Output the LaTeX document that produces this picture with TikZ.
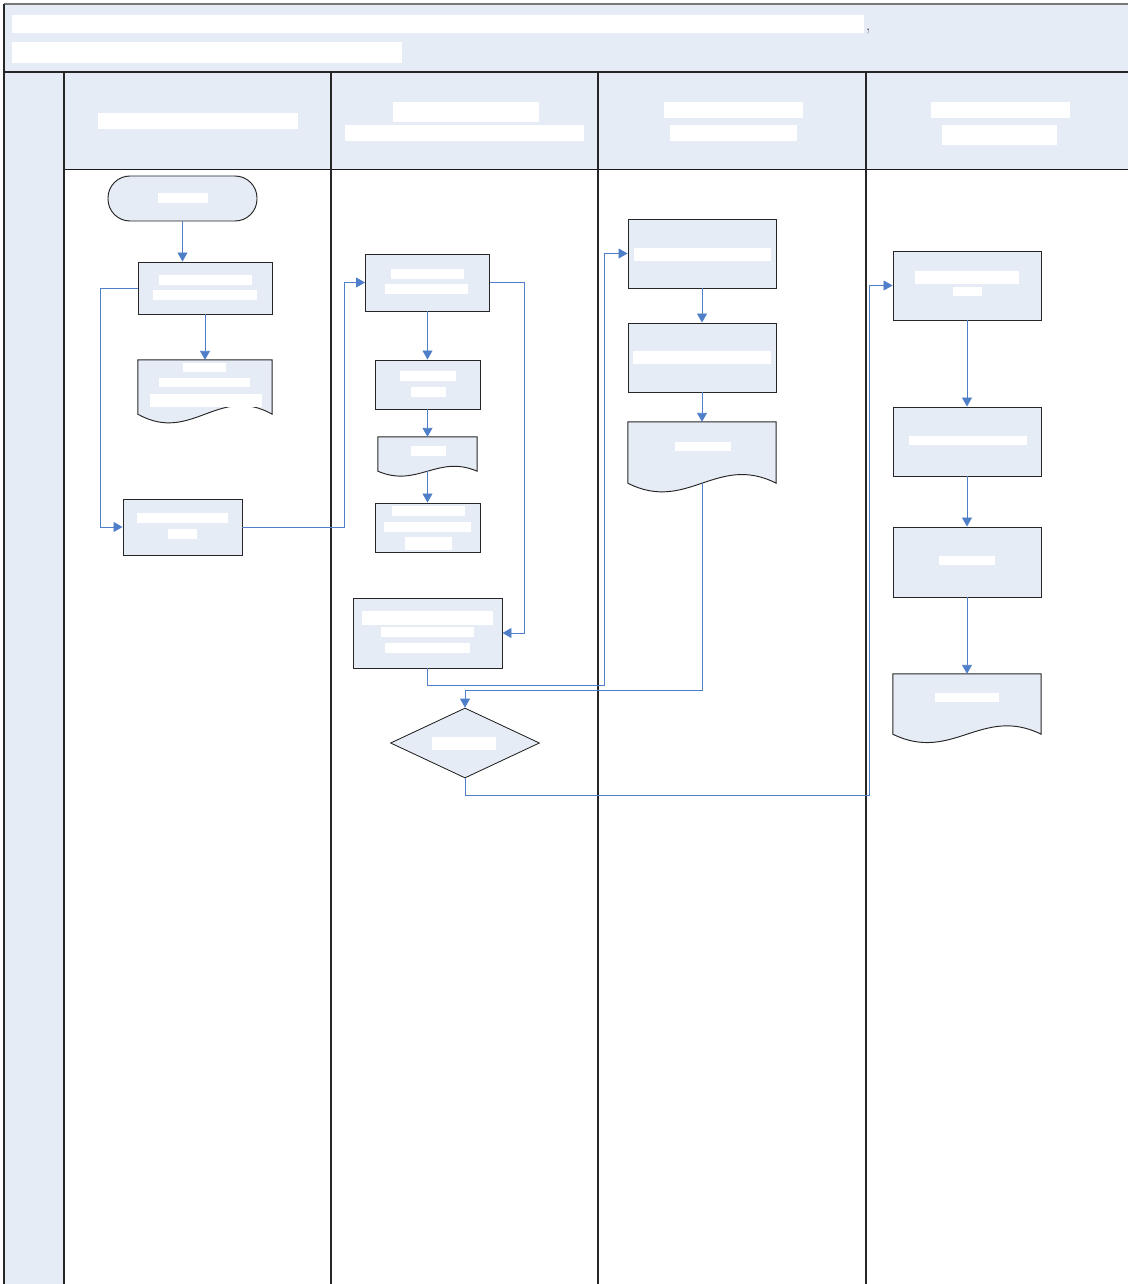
\documentclass[tikz,border=0pt]{standalone}
\usetikzlibrary{shapes.geometric,arrows.meta,calc}
\definecolor{lanefill}{HTML}{E6ECF6}
\definecolor{connblue}{HTML}{4F7FC8}
\definecolor{framegray}{HTML}{555555}
\tikzset{
  box/.style={rectangle, draw=black!85, line width=0.95pt, fill=lanefill, inner sep=0pt},
  term/.style={box, rounded corners=22pt},
  decision/.style={diamond, draw=black!90, line width=0.8pt, fill=lanefill, inner sep=0pt},
  docnode/.style={rectangle, inner sep=0pt},
  docstyle/.style={draw=black!85, line width=0.95pt, fill=lanefill},
  conn/.style={draw=connblue, line width=0.9pt, -{Triangle[length=9pt,width=10pt]}},
  frameline/.style={draw=black!85, line width=1.3pt},
}
\newcommand\wb[4]{\fill[white] (#1,#2) rectangle (#3,#4);}
\newcommand\docshape[2]{%
  \path[docstyle] (#1.north west) -- (#1.north east) -- (#1.south east)
    .. controls ($(#1.south west)!0.6!(#1.south east)+(0,-#2)$) and ($(#1.south west)!0.4!(#1.south east)+(0,#2)$) .. (#1.south west) -- cycle;}
\begin{document}
\begin{tikzpicture}[x=1pt,y=-1pt]
\useasboundingbox (0,0) rectangle (1128,1284);
% ---------- frame and lanes ----------
\fill[lanefill] (4,4) rectangle (1128,72);
\fill[lanefill] (4,73) rectangle (64,1284);
\fill[lanefill] (64,73) rectangle (1128,170);
\draw[draw=framegray!80, line width=2pt] (4,4) -- (1128,4);
\draw[frameline] (4,4) -- (4,1284);
\draw[draw=black!85, line width=2.2pt] (4,72) -- (1128,72);
\draw[draw=black!90, line width=1pt] (64,170) -- (1128,170);
\foreach \lx in {64,331,598,866} \draw[frameline] (\lx,73) -- (\lx,1284);
% title text (redacted bars)
\wb{12}{15}{864}{33}
\node[inner sep=0pt, anchor=base, text=black!75, font=\fontsize{18}{18}\selectfont] (comma) at (868,31) {,};
\wb{12}{42}{402}{63}
% lane headers
\wb{98}{113}{298}{129}
\wb{393}{102}{539}{122}
\wb{345}{125}{584}{141}
\wb{664}{102}{803}{118}
\wb{670}{125}{797}{141}
\wb{931}{102}{1070}{118}
\wb{942}{125}{1057}{145}
% ---------- lane 1 ----------
\node[term, minimum width=149, minimum height=45] (S) at (182.5,198.5) {};
\node[box, minimum width=134, minimum height=52] (A) at (205,288) {};
\node[docnode, minimum width=134, minimum height=54] (D1) at (205,387) {};
\docshape{D1}{30}
\node[box, minimum width=119, minimum height=56] (B) at (182.5,527) {};
% ---------- lane 2 ----------
\node[box, minimum width=124, minimum height=57] (C) at (427.5,282.5) {};
\node[box, minimum width=105, minimum height=49] (E) at (427.5,384.5) {};
\node[docnode, minimum width=99, minimum height=34] (D2) at (427.5,454) {};
\docshape{D2}{17}
\node[box, minimum width=105, minimum height=49] (F) at (427.5,527.5) {};
\node[box, minimum width=149, minimum height=70] (G) at (427.5,633) {};
\node[decision, minimum width=149, minimum height=70] (Q) at (465,743) {};
% ---------- lane 3 ----------
\node[box, minimum width=148, minimum height=69] (H) at (702,253.5) {};
\node[box, minimum width=148, minimum height=69] (I) at (702,357.5) {};
\node[docnode, minimum width=148, minimum height=61] (D3) at (702,452.5) {};
\docshape{D3}{30}
% ---------- lane 4 ----------
\node[box, minimum width=148, minimum height=69] (J) at (967,285.5) {};
\node[box, minimum width=148, minimum height=69] (K) at (967,441.5) {};
\node[box, minimum width=148, minimum height=70] (L) at (967,562) {};
\node[docnode, minimum width=148, minimum height=60] (D4) at (967,704) {};
\docshape{D4}{29}
% ---------- redacted labels ----------
\wb{158}{193}{208}{203}
\wb{159}{275}{252}{285}
\wb{153}{290}{257}{300}
\wb{183}{363}{226}{372}
\wb{159}{378}{250}{387}
\wb{150}{394}{262}{407}
\wb{137}{513}{228}{523}
\wb{168}{529}{197}{539}
\wb{391}{269}{464}{279}
\wb{385}{284}{468}{294}
\wb{400}{371}{456}{381}
\wb{411}{387}{446}{397}
\wb{411}{446}{446}{456}
\wb{392}{506}{465}{516}
\wb{384}{522}{471}{532}
\wb{405}{537}{452}{550}
\wb{362}{611}{493}{625}
\wb{381}{627}{474}{637}
\wb{385}{643}{470}{653}
\wb{432}{737}{496}{750}
\wb{634}{248}{771}{261}
\wb{633}{351}{771}{364}
\wb{675}{442}{731}{451}
\wb{915}{271}{1019}{284}
\wb{953}{287}{982}{296}
\wb{909}{436}{1027}{445}
\wb{939}{556}{995}{565}
\wb{935}{693}{999}{702}
% ---------- connectors ----------
\draw[conn] (S.south) -- (S.south |- A.north);
\draw[conn] (A.south) -- (D1.north);
\draw[conn] (A.west) -- ++(-37,0) |- (B.west);
\draw[conn] (B.east) -- ++(102,0) |- (C.west);
\draw[conn] (C.south) -- (E.north);
\draw[conn] (E.south) -- (D2.north);
\draw[conn] (D2.south) -- (F.north);
\draw[conn] (C.east) -- ++(34,0) |- (G.east);
\draw[conn] (G.south) -- ++(0,17) -| ([xshift=-23pt]H.west) -- (H.west);
\draw[conn] (H.south) -- (I.north);
\draw[conn] (I.south) -- (D3.north);
\draw[conn] (D3.south) -- ++(0,207) -| (Q.north);
\draw[conn] (Q.south) -- ++(0,17) -| ([xshift=-23pt]J.west) -- (J.west);
\draw[conn] (J.south) -- (K.north);
\draw[conn] (K.south) -- (L.north);
\draw[conn] (L.south) -- (D4.north);
\end{tikzpicture}
\end{document}
